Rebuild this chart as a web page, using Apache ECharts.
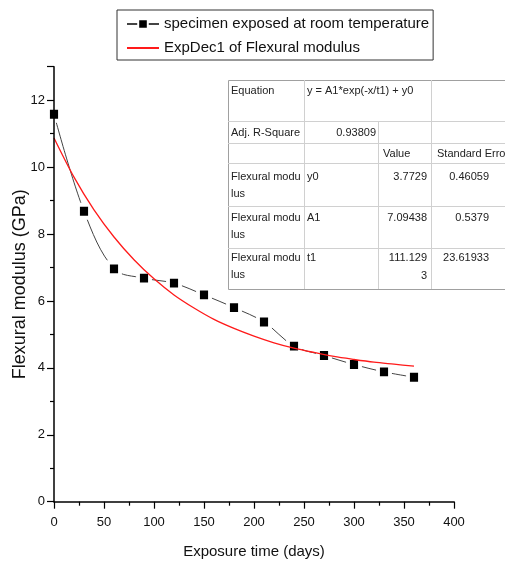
<!DOCTYPE html>
<html>
<head>
<meta charset="utf-8">
<script src="https://cdn.jsdelivr.net/npm/echarts@6/dist/echarts.min.js"></script>
<style>
html,body{margin:0;padding:0;background:#fff;}
#chart{width:505px;height:563px;}
</style>
</head>
<body>
<div id="chart"></div>
<script>
// ---- data ----
var days = [0, 30, 60, 90, 120, 150, 180, 210, 240, 270, 300, 330, 360];
var modulus = [11.58, 8.68, 6.96, 6.68, 6.53, 6.18, 5.80, 5.37, 4.65, 4.37, 4.10, 3.88, 3.72];
var fitDays = [0, 20, 40, 60, 80, 100, 120, 140, 160, 180, 200, 220, 240, 260, 280, 300, 320, 340, 360];
var fitValues = [10.87, 9.70, 8.72, 7.91, 7.23, 6.66, 6.18, 5.79, 5.45, 5.18, 4.95, 4.75, 4.59, 4.46, 4.34, 4.25, 4.17, 4.11, 4.05];
var seriesNames = ['specimen exposed at room temperature', 'ExpDec1 of Flexural modulus'];
var xTitle = 'Exposure time (days)';
var yTitle = 'Flexural modulus (GPa)';
var tableParams = ['y0', 'A1', 't1'];
var tableValues = [['3.7729'], ['7.09438'], ['111.129', '3']];
var tableErrors = ['0.46059', '0.5379', '23.61933'];
var tableEquation = 'y = A1*exp(-x/t1) + y0';
var tableR2 = '0.93809';

var FF = 'Liberation Sans';
var S = {tick: 13, xname: 15, yname: 18, legend: 15, table: 11};

var chart = echarts.init(document.getElementById('chart'), null, {renderer: 'canvas'});

// ---- table graphic ----
var T = {x0: 228, y0: 80, x1: 530, y1: 289};
var rowsY = [121, 143, 163, 206, 248];
var tg = [];
var tz = 100;
tg.push({type: 'rect', z: tz, shape: {x: T.x0 + 0.5, y: T.y0 + 0.5, width: T.x1 - T.x0, height: T.y1 - T.y0}, style: {fill: '#fff', stroke: '#a0a0a0', lineWidth: 1}});
rowsY.forEach(function (y) {
  tg.push({type: 'line', z: tz + 1, shape: {x1: T.x0, y1: y + 0.5, x2: T.x1, y2: y + 0.5}, style: {stroke: '#d0d0d0', lineWidth: 1}});
});
tg.push({type: 'line', z: tz + 1, shape: {x1: 304.5, y1: T.y0, x2: 304.5, y2: T.y1}, style: {stroke: '#d0d0d0', lineWidth: 1}});
tg.push({type: 'line', z: tz + 1, shape: {x1: 378.5, y1: rowsY[0], x2: 378.5, y2: T.y1}, style: {stroke: '#d0d0d0', lineWidth: 1}});
tg.push({type: 'line', z: tz + 1, shape: {x1: 431.5, y1: T.y0, x2: 431.5, y2: T.y1}, style: {stroke: '#d0d0d0', lineWidth: 1}});
function txt(s, x, y, align) {
  tg.push({type: 'text', z: tz + 2, x: x, y: y, style: {text: s, fill: '#222', font: S.table + 'px "' + FF + '"', textAlign: align || 'left', textVerticalAlign: 'middle'}});
}
txt('Equation', 231, 91);
txt(tableEquation, 307, 91);
txt('Adj. R-Square', 231, 132.5);
txt(tableR2, 376, 132.5, 'right');
txt('Value', 383, 154);
txt('Standard Error', 437, 154);
var rowTop = [176.5, 217.5, 257.5];
for (var i = 0; i < 3; i++) {
  var y = rowTop[i];
  txt('Flexural modu', 231, y);
  txt('lus', 231, y + 17);
  txt(tableParams[i], 307, y);
  tableValues[i].forEach(function (v, k) { txt(v, 427, y + k * 18, 'right'); });
  txt(tableErrors[i], 489, y, 'right');
}

var axisCommon = {
  axisLine: {show: true, onZero: false, lineStyle: {color: '#000', width: 1.5}},
  axisTick: {show: true, inside: false, length: 7, lineStyle: {color: '#000', width: 1.2}},
  minorTick: {show: true, splitNumber: 2, length: 4, lineStyle: {color: '#000', width: 1.2}},
  splitLine: {show: false},
  axisLabel: {color: '#111', fontFamily: FF, fontSize: S.tick},
  nameMoveOverlap: false,
  z: 10
};

var option = {
  animation: false,
  backgroundColor: '#fff',
  grid: {left: 54, right: 51, top: 66.7, bottom: 61.3, containLabel: false, outerBoundsMode: 'none'},
  legend: {
    left: 117, top: 10, orient: 'vertical',
    backgroundColor: '#fff', borderColor: '#333', borderWidth: 1,
    padding: [5, 4, 3, 9], itemGap: 6, itemWidth: 32, itemHeight: 12,
    textStyle: {color: '#111', fontFamily: FF, fontSize: S.legend, lineHeight: 18},
    data: [
      {name: seriesNames[0]},
      {name: seriesNames[1], itemStyle: {opacity: 0}}
    ]
  },
  xAxis: Object.assign({}, axisCommon, {
    type: 'value', min: 0, max: 400, interval: 50,
    name: xTitle, nameLocation: 'middle', nameGap: 43,
    nameTextStyle: {color: '#111', fontFamily: FF, fontSize: S.xname},
    axisLabel: Object.assign({}, axisCommon.axisLabel, {margin: 14})
  }),
  yAxis: Object.assign({}, axisCommon, {
    type: 'value', min: 0, max: 13, interval: 2,
    name: yTitle, nameLocation: 'middle', nameGap: 25,
    nameTextStyle: {color: '#111', fontFamily: FF, fontSize: S.yname},
    axisLabel: Object.assign({}, axisCommon.axisLabel, {margin: 9, showMaxLabel: false})
  }),
  series: [
    {
      name: seriesNames[0], type: 'line', smooth: 0.35,
      data: days.map(function (d, i) { return [d, modulus[i]]; }),
      symbol: 'rect', symbolSize: [12, 13],
      lineStyle: {color: '#444', width: 1},
      itemStyle: {color: '#000', borderColor: '#fff', borderWidth: 4},
      clip: false, z: 2
    },
    {
      name: seriesNames[1], type: 'line', smooth: 0.3,
      data: fitDays.map(function (d, i) { return [d, fitValues[i]]; }),
      symbol: 'none', showSymbol: false,
      lineStyle: {color: '#ff1a1a', width: 1.3},
      itemStyle: {color: '#ff1a1a'},
      z: 3
    }
  ],
  graphic: {elements: tg}
};
chart.setOption(option);
</script>
</body>
</html>
